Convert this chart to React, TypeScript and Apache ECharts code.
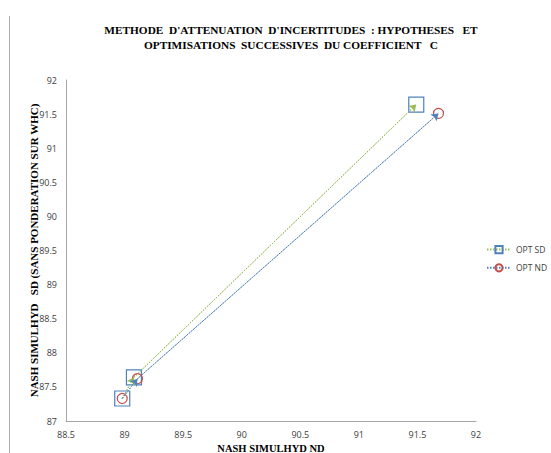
import React, { useEffect, useRef } from "react";
import * as echarts from "echarts";

const titleLines = [
  "METHODE  D'ATTENUATION  D'INCERTITUDES  : HYPOTHESES   ET",
  "OPTIMISATIONS  SUCCESSIVES  DU COEFFICIENT   C",
];
const xAxisName = "NASH SIMULHYD ND";
const yAxisName = "NASH SIMULHYD   SD (SANS PONDERATION SUR WHC)";

const seriesNames = ["OPT SD", "OPT ND"];
const sdX = [88.98, 89.08, 91.49];
const sdY = [87.33, 87.64, 91.64];
const ndX = [88.98, 89.11, 91.68];
const ndY = [87.33, 87.62, 91.51];

const xMin = 88.5;
const xMax = 92;
const yMin = 87;
const yMax = 92;
const step = 0.5;

function pairs(xs: number[], ys: number[]) {
  return xs.map((x, i) => [x, ys[i]]);
}
function segments(xs: number[], ys: number[]) {
  const out: any[] = [];
  for (let i = 0; i < xs.length - 1; i++) {
    out.push([{ coord: [xs[i], ys[i]] }, { coord: [xs[i + 1], ys[i + 1]] }]);
  }
  return out;
}

export default function App() {
  const ref = useRef<HTMLDivElement>(null);
  useEffect(() => {
    document.body.style.margin = "0";
    if (!ref.current) return;
    const chart = echarts.init(ref.current, null, { renderer: "svg" });
    const green = "#9bbb59";
    const blue = "#4f81bd";
    const red = "#c0504d";
    const labelStyle = { fontFamily: "Open Sans", fontSize: 9, color: "#404040" };
    const mk = (name: string, xs: number[], ys: number[], lineColor: string, sym: string, symSize: number, symColor: string) => ({
      name,
      type: "line",
      data: pairs(xs, ys),
      symbol: sym,
      symbolSize: symSize,
      showSymbol: true,
      itemStyle: { color: "rgba(255,255,255,0)", borderColor: symColor, borderWidth: 1.2 },
      lineStyle: { color: lineColor, width: 1, type: [1.5, 1.5] },
      markLine: {
        silent: true,
        symbol: ["none", "arrow"],
        symbolSize: 7,
        label: { show: false },
        lineStyle: { color: lineColor, width: 1, type: [1.5, 1.5] },
        data: segments(xs, ys),
      },
      z: 3,
    });
    chart.setOption({
      animation: false,
      backgroundColor: "#ffffff",
      title: {
        text: titleLines.join("\n"),
        left: 286,
        top: 17,
        textAlign: "center",
        textStyle: {
          fontFamily: "Liberation Serif",
          fontWeight: "bold",
          fontSize: 11.3,
          lineHeight: 15,
          color: "#000",
        },
      },
      legend: {
        orient: "vertical",
        left: 481,
        top: 240,
        itemWidth: 24,
        itemHeight: 9,
        itemGap: 9,
        textStyle: { fontFamily: "Open Sans", fontSize: 8.5, color: "#404040" },
        data: seriesNames,
      },
      grid: { left: 66, right: 75, top: 80, bottom: 32, outerBoundsMode: "none", containLabel: false },
      xAxis: {
        type: "value",
        min: xMin,
        max: xMax,
        interval: step,
        name: xAxisName,
        nameLocation: "middle",
        nameGap: 22,
        nameMoveOverlap: false,
        nameTextStyle: { fontFamily: "Liberation Serif", fontWeight: "bold", fontSize: 10.5, color: "#000" },
        axisLine: { show: true, lineStyle: { color: "#a6a6a6" } },
        axisTick: { show: false },
        splitLine: { show: false },
        axisLabel: { ...labelStyle, margin: 9 },
      },
      yAxis: {
        type: "value",
        min: yMin,
        max: yMax,
        interval: step,
        name: yAxisName,
        nameLocation: "middle",
        nameGap: 27,
        nameMoveOverlap: false,
        nameTextStyle: { fontFamily: "Liberation Serif", fontWeight: "bold", fontSize: 11, color: "#000" },
        axisLine: { show: true, lineStyle: { color: "#a6a6a6" } },
        axisTick: { show: false },
        splitLine: { show: false },
        axisLabel: { ...labelStyle, margin: 9 },
      },
      graphic: [
        { type: "line", shape: { x1: 9.5, y1: 16, x2: 9.5, y2: 453 }, style: { stroke: "#b0b0b0", lineWidth: 1 } },
      ],
      series: [
        mk(seriesNames[0], sdX, sdY, green, "rect", 15, blue),
        mk(seriesNames[1], ndX, ndY, blue, "circle", 10, red),
      ],
    });
    return () => chart.dispose();
  }, []);
  return <div ref={ref} style={{ width: 551, height: 453 }} />;
}
